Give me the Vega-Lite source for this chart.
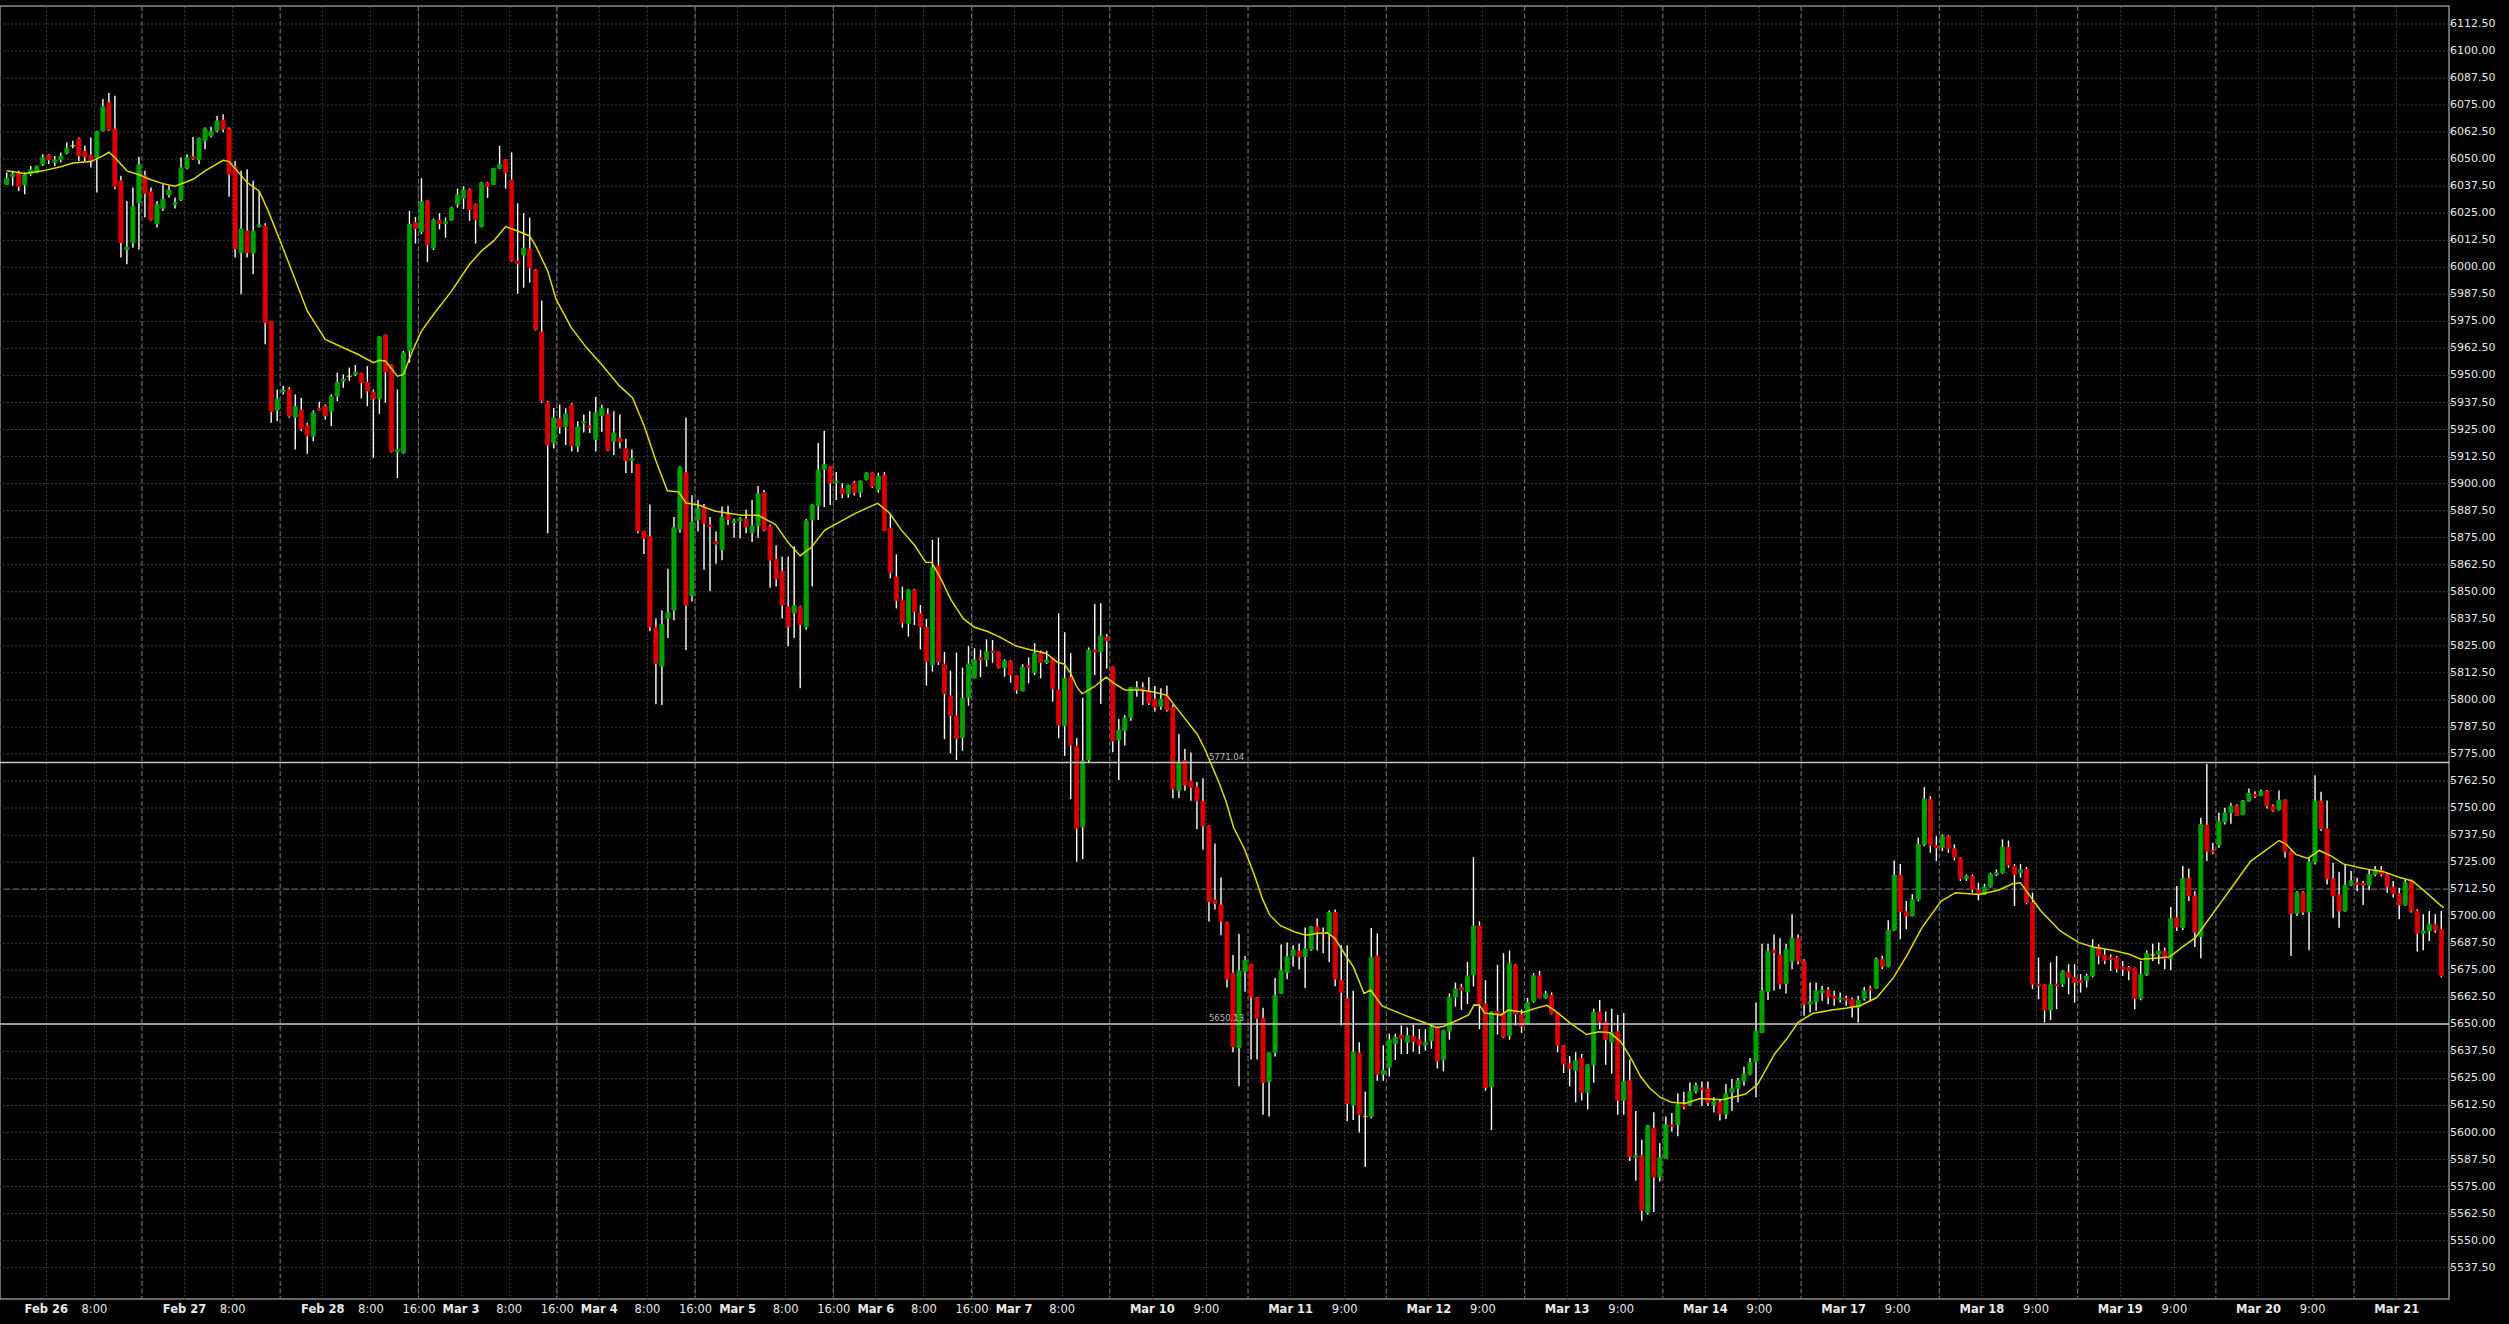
{
"$schema":"https://vega.github.io/schema/vega-lite/v6.json",
"width":2449,"height":1293,"autosize":"none",
"padding":{"left":0,"top":6,"right":60,"bottom":25},
"background":"#000000",
"config":{"view":{"stroke":"#8c8c8c","strokeWidth":1.5},"axis":{"labelFont":"DejaVu Sans","labelFontSize":11,"labelColor":"#e8e8e8","domain":false,"title":null,"labelOverlap":false,"labelFlush":false}},
"datasets":{
"sep":[{"i":22.5},{"i":45.5},{"i":68.5},{"i":91.5},{"i":114.5},{"i":137.5},{"i":160.5},{"i":183.5},{"i":206.5},{"i":229.5},{"i":252.5},{"i":275.5},{"i":298.5},{"i":321.5},{"i":344.5},{"i":367.5},{"i":390.5}],
"dash":[{"v":5712.5}],
"yt":[{"v":5537.5},{"v":5550},{"v":5562.5},{"v":5575},{"v":5587.5},{"v":5600},{"v":5612.5},{"v":5625},{"v":5637.5},{"v":5650},{"v":5662.5},{"v":5675},{"v":5687.5},{"v":5700},{"v":5712.5},{"v":5725},{"v":5737.5},{"v":5750},{"v":5762.5},{"v":5775},{"v":5787.5},{"v":5800},{"v":5812.5},{"v":5825},{"v":5837.5},{"v":5850},{"v":5862.5},{"v":5875},{"v":5887.5},{"v":5900},{"v":5912.5},{"v":5925},{"v":5937.5},{"v":5950},{"v":5962.5},{"v":5975},{"v":5987.5},{"v":6000},{"v":6012.5},{"v":6025},{"v":6037.5},{"v":6050},{"v":6062.5},{"v":6075},{"v":6087.5},{"v":6100},{"v":6112.5}],
"levels":[{"i":200,"v":5771.04,"t":"5771.04"},{"i":200,"v":5650.13,"t":"5650.13"}],
"ma":[{"i":0,"m":6044.6},{"i":3,"m":6043.4},{"i":6,"m":6044.6},{"i":9,"m":6046.5},{"i":11,"m":6048.2},{"i":14,"m":6048.9},{"i":16,"m":6051.5},{"i":17,"m":6053.2},{"i":18,"m":6050.8},{"i":20,"m":6044.6},{"i":22,"m":6042.8},{"i":24,"m":6040.5},{"i":26,"m":6038.7},{"i":28,"m":6037.5},{"i":31,"m":6040.7},{"i":33,"m":6044.6},{"i":36,"m":6049.5},{"i":37,"m":6048.9},{"i":40,"m":6039.2},{"i":42,"m":6035.3},{"i":43.5,"m":6026.1},{"i":45.5,"m":6012.2},{"i":47,"m":6001.4},{"i":50,"m":5979.8},{"i":53,"m":5966.7},{"i":56,"m":5962.8},{"i":58.5,"m":5959.7},{"i":61,"m":5955.9},{"i":62,"m":5957.0},{"i":63,"m":5956.7},{"i":65,"m":5949.7},{"i":66,"m":5950.5},{"i":67.5,"m":5961.3},{"i":69,"m":5970.5},{"i":71,"m":5978.2},{"i":74,"m":5989.0},{"i":77,"m":6001.4},{"i":79,"m":6007.6},{"i":81,"m":6012.2},{"i":83,"m":6018.8},{"i":85,"m":6016.8},{"i":87,"m":6014.5},{"i":88,"m":6009.9},{"i":90,"m":5998.3},{"i":91.4,"m":5985.2},{"i":93.9,"m":5972.2},{"i":96.4,"m":5963.0},{"i":98.8,"m":5955.7},{"i":101.9,"m":5945.3},{"i":104.1,"m":5939.7},{"i":106,"m":5927.1},{"i":108,"m":5910.6},{"i":109.9,"m":5896.7},{"i":111.8,"m":5896.2},{"i":113,"m":5891.0},{"i":115.1,"m":5890.1},{"i":117.9,"m":5887.2},{"i":122.3,"m":5885.4},{"i":125,"m":5885.4},{"i":127.9,"m":5881.1},{"i":130.1,"m":5872.4},{"i":132,"m":5866.7},{"i":133.9,"m":5870.7},{"i":136.1,"m":5878.5},{"i":138.9,"m":5882.8},{"i":141,"m":5886.0},{"i":142.8,"m":5888.3},{"i":144.9,"m":5890.9},{"i":146.9,"m":5886.3},{"i":148.8,"m":5878.6},{"i":151,"m":5871.6},{"i":152.9,"m":5863.6},{"i":153.9,"m":5863.5},{"i":155.5,"m":5855.5},{"i":157.1,"m":5846.2},{"i":159.1,"m":5837.7},{"i":161,"m":5833.6},{"i":163.2,"m":5831.6},{"i":165.4,"m":5828.8},{"i":167.9,"m":5824.9},{"i":170.4,"m":5823.1},{"i":172.9,"m":5821.6},{"i":174.8,"m":5817.4},{"i":175.9,"m":5816.6},{"i":177,"m":5812.3},{"i":178,"m":5806.1},{"i":178.9,"m":5802.8},{"i":180.9,"m":5806.1},{"i":182.9,"m":5810.5},{"i":184.2,"m":5807.7},{"i":186,"m":5804.6},{"i":188.6,"m":5804.6},{"i":191,"m":5803.5},{"i":193,"m":5802.1},{"i":195.1,"m":5794.6},{"i":198.1,"m":5783.9},{"i":199.3,"m":5777.3},{"i":201.7,"m":5761.6},{"i":202.9,"m":5752.6},{"i":204.1,"m":5741.0},{"i":205.9,"m":5731.1},{"i":207.7,"m":5717.9},{"i":208.9,"m":5708.0},{"i":210.1,"m":5700.6},{"i":211.9,"m":5695.6},{"i":214.3,"m":5692.7},{"i":216.1,"m":5691.2},{"i":217.9,"m":5692.0},{"i":219.7,"m":5692.3},{"i":220.9,"m":5689.9},{"i":222.8,"m":5681.6},{"i":224,"m":5676.7},{"i":225.8,"m":5664.3},{"i":226.9,"m":5665.9},{"i":228.8,"m":5658.5},{"i":232.4,"m":5654.4},{"i":236,"m":5650.6},{"i":237.8,"m":5648.6},{"i":239,"m":5649.0},{"i":241.4,"m":5652.0},{"i":243.2,"m":5654.4},{"i":244.1,"m":5659.0},{"i":245,"m":5658.8},{"i":245.9,"m":5655.2},{"i":248.6,"m":5654.4},{"i":249.8,"m":5656.6},{"i":252.3,"m":5655.6},{"i":254.1,"m":5657.2},{"i":256.2,"m":5658.8},{"i":257.7,"m":5656.0},{"i":260.1,"m":5650.6},{"i":262.8,"m":5645.3},{"i":264.9,"m":5646.6},{"i":266.7,"m":5646.1},{"i":268.5,"m":5642.0},{"i":270.3,"m":5633.8},{"i":271.8,"m":5625.9},{"i":273.3,"m":5620.6},{"i":275.1,"m":5616.2},{"i":276.9,"m":5614.0},{"i":279.3,"m":5613.5},{"i":281.7,"m":5615.7},{"i":285.4,"m":5615.2},{"i":289.3,"m":5617.8},{"i":291.3,"m":5622.4},{"i":294.1,"m":5636.3},{"i":296.1,"m":5643.2},{"i":298,"m":5650.9},{"i":300.4,"m":5655.0},{"i":303.6,"m":5656.6},{"i":305.9,"m":5657.5},{"i":308.3,"m":5658.6},{"i":311.1,"m":5662.4},{"i":313.9,"m":5671.7},{"i":316.2,"m":5682.4},{"i":318.6,"m":5694.7},{"i":321.8,"m":5707.0},{"i":324.2,"m":5710.9},{"i":328.1,"m":5710.1},{"i":331.3,"m":5712.0},{"i":333.7,"m":5715.0},{"i":335,"m":5715.5},{"i":336.4,"m":5710.1},{"i":338.4,"m":5702.4},{"i":341.6,"m":5693.2},{"i":344.7,"m":5687.8},{"i":347.1,"m":5685.8},{"i":350.3,"m":5684.3},{"i":353.1,"m":5682.4},{"i":355,"m":5680.1},{"i":357.4,"m":5680.6},{"i":359.8,"m":5681.2},{"i":362.2,"m":5686.3},{"i":364.1,"m":5690.1},{"i":366.1,"m":5697.8},{"i":368.5,"m":5707.0},{"i":370.9,"m":5716.3},{"i":373.3,"m":5725.5},{"i":375.6,"m":5730.1},{"i":378,"m":5735.0},{"i":379.2,"m":5733.2},{"i":380.8,"m":5728.6},{"i":382.8,"m":5726.7},{"i":384.7,"m":5730.4},{"i":386.7,"m":5727.8},{"i":388.7,"m":5724.2},{"i":391.5,"m":5722.4},{"i":393.8,"m":5721.2},{"i":395.4,"m":5720.6},{"i":397.8,"m":5718.1},{"i":400.2,"m":5716.3},{"i":402.5,"m":5710.9},{"i":404.7,"m":5705.5},{"i":405.4,"m":5704.0}],
"k":[
{"i":0,"o":6038.4,"h":6043.8,"l":6038.1,"c":6041.2},{"i":1,"o":6042.0,"h":6044.6,"l":6037.7,"c":6043.1},{"i":2,"o":6043.5,"h":6044.6,"l":6035.3,"c":6037.4},{"i":3,"o":6038.1,"h":6043.8,"l":6033.8,"c":6042.8},{"i":4,"o":6043.1,"h":6046.9,"l":6042.3,"c":6045.1},{"i":5,"o":6043.8,"h":6047.0,"l":6043.5,"c":6046.8},{"i":6,"o":6047.7,"h":6052.3,"l":6046.9,"c":6050.8},{"i":7,"o":6051.9,"h":6052.3,"l":6047.7,"c":6049.7},{"i":8,"o":6048.5,"h":6051.5,"l":6046.9,"c":6049.7},{"i":9,"o":6049.7,"h":6053.1,"l":6048.5,"c":6051.4},
{"i":10,"o":6052.9,"h":6057.7,"l":6052.3,"c":6055.1},{"i":11,"o":6056.2,"h":6058.5,"l":6055.1,"c":6056.2},{"i":12,"o":6059.4,"h":6060.0,"l":6049.2,"c":6051.5},{"i":13,"o":6053.6,"h":6056.2,"l":6049.2,"c":6051.1},{"i":14,"o":6051.9,"h":6060.0,"l":6046.1,"c":6048.9},{"i":15,"o":6050.8,"h":6063.1,"l":6034.6,"c":6062.7},{"i":16,"o":6063.1,"h":6077.8,"l":6062.8,"c":6074.2},{"i":17,"o":6076.1,"h":6080.6,"l":6063.1,"c":6063.6},{"i":18,"o":6063.9,"h":6079.3,"l":6036.1,"c":6037.4},{"i":19,"o":6040.0,"h":6042.3,"l":6004.5,"c":6011.4},
{"i":20,"o":6008.2,"h":6030.7,"l":6001.4,"c":6009.4},{"i":21,"o":6011.4,"h":6036.9,"l":6009.1,"c":6028.1},{"i":22,"o":6029.9,"h":6051.1,"l":6008.3,"c":6047.4},{"i":23,"o":6042.3,"h":6044.6,"l":6023.0,"c":6034.1},{"i":24,"o":6034.9,"h":6036.9,"l":6021.5,"c":6021.9},{"i":25,"o":6020.1,"h":6030.7,"l":6018.4,"c":6029.0},{"i":26,"o":6027.2,"h":6038.4,"l":6026.1,"c":6031.5},{"i":27,"o":6033.5,"h":6037.7,"l":6032.3,"c":6035.8},{"i":28,"o":6029.0,"h":6032.3,"l":6027.2,"c":6029.9},{"i":29,"o":6031.3,"h":6050.8,"l":6030.7,"c":6046.0},
{"i":30,"o":6046.0,"h":6052.3,"l":6045.4,"c":6050.8},{"i":31,"o":6051.2,"h":6060.3,"l":6049.7,"c":6050.3},{"i":32,"o":6049.7,"h":6060.0,"l":6047.7,"c":6059.6},{"i":33,"o":6058.5,"h":6064.7,"l":6054.6,"c":6064.0},{"i":34,"o":6060.8,"h":6065.0,"l":6060.0,"c":6062.8},{"i":35,"o":6063.1,"h":6070.1,"l":6062.4,"c":6067.7},{"i":36,"o":6068.1,"h":6070.8,"l":6062.4,"c":6063.9},{"i":37,"o":6064.0,"h":6064.7,"l":6032.6,"c":6042.9},{"i":38,"o":6046.5,"h":6049.2,"l":6004.5,"c":6008.6},{"i":39,"o":6006.8,"h":6044.6,"l":5987.5,"c":6017.8},
{"i":40,"o":6016.8,"h":6045.4,"l":6004.5,"c":6006.8},{"i":41,"o":6006.6,"h":6040.0,"l":5996.8,"c":6016.8},{"i":42,"o":6018.8,"h":6035.3,"l":6018.4,"c":6019.6},{"i":43,"o":6019.1,"h":6020.4,"l":5964.4,"c":5974.4},{"i":44,"o":5974.9,"h":5975.2,"l":5928.1,"c":5933.2},{"i":45,"o":5934.0,"h":5943.5,"l":5928.9,"c":5939.1},{"i":46,"o":5942.5,"h":5945.1,"l":5941.2,"c":5943.2},{"i":47,"o":5943.5,"h":5944.6,"l":5930.4,"c":5931.2},{"i":48,"o":5930.7,"h":5941.2,"l":5915.8,"c":5935.7},{"i":49,"o":5934.0,"h":5939.7,"l":5924.3,"c":5925.3},
{"i":50,"o":5927.0,"h":5928.1,"l":5913.8,"c":5922.2},{"i":51,"o":5921.9,"h":5933.8,"l":5919.6,"c":5933.0},{"i":52,"o":5934.9,"h":5937.8,"l":5933.8,"c":5934.0},{"i":53,"o":5935.8,"h":5936.6,"l":5929.6,"c":5931.3},{"i":54,"o":5933.5,"h":5941.2,"l":5926.6,"c":5940.1},{"i":55,"o":5940.4,"h":5951.3,"l":5938.1,"c":5946.8},{"i":56,"o":5947.4,"h":5950.5,"l":5944.3,"c":5948.3},{"i":57,"o":5949.6,"h":5953.6,"l":5947.4,"c":5949.6},{"i":58,"o":5950.5,"h":5954.8,"l":5949.7,"c":5951.4},{"i":59,"o":5951.0,"h":5951.3,"l":5939.4,"c":5946.6},
{"i":60,"o":5946.9,"h":5954.3,"l":5935.8,"c":5942.8},{"i":61,"o":5942.3,"h":5943.5,"l":5911.9,"c":5939.2},{"i":62,"o":5939.2,"h":5968.2,"l":5932.3,"c":5967.8},{"i":63,"o":5968.7,"h":5969.0,"l":5937.4,"c":5951.6},{"i":64,"o":5954.8,"h":5955.1,"l":5914.4,"c":5914.7},{"i":65,"o":5914.7,"h":5943.5,"l":5902.6,"c":5915.8},{"i":66,"o":5914.2,"h":5961.3,"l":5913.9,"c":5960.4},{"i":67,"o":5961.6,"h":6026.1,"l":5955.9,"c":6019.9},{"i":68,"o":6020.8,"h":6023.3,"l":6011.0,"c":6017.9},{"i":69,"o":6016.4,"h":6041.2,"l":6015.3,"c":6030.3},
{"i":70,"o":6030.7,"h":6031.0,"l":6002.5,"c":6010.5},{"i":71,"o":6008.9,"h":6022.5,"l":6008.0,"c":6021.8},{"i":72,"o":6021.8,"h":6025.0,"l":6017.6,"c":6020.2},{"i":73,"o":6020.2,"h":6023.0,"l":6013.7,"c":6021.1},{"i":74,"o":6021.9,"h":6028.0,"l":6021.5,"c":6027.5},{"i":75,"o":6029.0,"h":6036.4,"l":6027.6,"c":6033.5},{"i":76,"o":6032.0,"h":6037.4,"l":6026.9,"c":6035.8},{"i":77,"o":6035.8,"h":6036.4,"l":6021.5,"c":6026.7},{"i":78,"o":6029.2,"h":6029.5,"l":6011.0,"c":6021.9},{"i":79,"o":6018.8,"h":6039.5,"l":6018.4,"c":6039.0},
{"i":80,"o":6039.0,"h":6039.5,"l":6032.1,"c":6037.4},{"i":81,"o":6038.3,"h":6046.0,"l":6038.0,"c":6045.7},{"i":82,"o":6045.7,"h":6056.2,"l":6045.5,"c":6047.7},{"i":83,"o":6049.7,"h":6050.0,"l":6036.4,"c":6043.7},{"i":84,"o":6040.4,"h":6053.1,"l":6002.5,"c":6002.9},{"i":85,"o":6002.9,"h":6029.6,"l":5987.8,"c":6001.7},{"i":86,"o":6005.7,"h":6025.0,"l":5990.6,"c":6008.8},{"i":87,"o":6008.5,"h":6023.0,"l":5992.9,"c":5999.7},{"i":88,"o":5998.8,"h":5999.2,"l":5970.8,"c":5971.2},{"i":89,"o":5970.1,"h":5984.7,"l":5937.4,"c":5938.3},
{"i":90,"o":5937.7,"h":5938.2,"l":5877.1,"c":5917.8},{"i":91,"o":5918.8,"h":5935.0,"l":5916.2,"c":5930.4},{"i":92,"o":5930.0,"h":5936.6,"l":5923.1,"c":5926.2},{"i":93,"o":5926.2,"h":5934.9,"l":5917.9,"c":5932.3},{"i":94,"o":5936.5,"h":5937.2,"l":5914.9,"c":5917.5},{"i":95,"o":5917.3,"h":5928.8,"l":5914.6,"c":5926.2},{"i":96,"o":5928.0,"h":5932.0,"l":5923.6,"c":5928.7},{"i":97,"o":5926.7,"h":5933.5,"l":5923.4,"c":5926.0},{"i":98,"o":5920.5,"h":5940.1,"l":5914.9,"c":5932.8},{"i":99,"o":5931.4,"h":5936.5,"l":5923.9,"c":5934.9},
{"i":100,"o":5932.1,"h":5934.9,"l":5915.0,"c":5915.5},{"i":101,"o":5919.6,"h":5933.5,"l":5913.2,"c":5923.4},{"i":102,"o":5921.0,"h":5932.0,"l":5916.2,"c":5919.3},{"i":103,"o":5916.2,"h":5920.7,"l":5904.9,"c":5910.6},{"i":104,"o":5910.8,"h":5915.8,"l":5904.9,"c":5911.7},{"i":105,"o":5908.9,"h":5909.2,"l":5877.1,"c":5878.1},{"i":106,"o":5877.9,"h":5878.2,"l":5867.5,"c":5874.7},{"i":107,"o":5875.5,"h":5890.3,"l":5831.9,"c":5833.8},{"i":108,"o":5833.6,"h":5837.6,"l":5798.0,"c":5816.7},{"i":109,"o":5815.6,"h":5841.5,"l":5797.7,"c":5834.9},
{"i":110,"o":5837.6,"h":5860.6,"l":5828.6,"c":5840.3},{"i":111,"o":5841.5,"h":5884.6,"l":5836.8,"c":5879.7},{"i":112,"o":5879.0,"h":5908.0,"l":5877.3,"c":5907.5},{"i":113,"o":5905.0,"h":5930.6,"l":5823.0,"c":5843.8},{"i":114,"o":5848.1,"h":5894.6,"l":5845.5,"c":5882.3},{"i":115,"o":5883.2,"h":5892.4,"l":5877.9,"c":5888.6},{"i":116,"o":5889.2,"h":5890.6,"l":5860.2,"c":5881.7},{"i":117,"o":5881.0,"h":5884.6,"l":5850.3,"c":5880.2},{"i":118,"o":5873.2,"h":5877.9,"l":5862.9,"c":5872.0},{"i":119,"o":5869.5,"h":5889.4,"l":5864.6,"c":5884.4},
{"i":120,"o":5885.5,"h":5889.8,"l":5880.9,"c":5883.4},{"i":121,"o":5882.0,"h":5883.8,"l":5875.0,"c":5882.7},{"i":122,"o":5882.7,"h":5884.6,"l":5874.7,"c":5883.9},{"i":123,"o":5883.6,"h":5887.9,"l":5877.1,"c":5880.0},{"i":124,"o":5877.4,"h":5892.4,"l":5873.0,"c":5880.5},{"i":125,"o":5880.6,"h":5898.9,"l":5875.0,"c":5895.3},{"i":126,"o":5895.8,"h":5897.0,"l":5878.0,"c":5878.5},{"i":127,"o":5880.2,"h":5881.0,"l":5851.9,"c":5864.6},{"i":128,"o":5865.0,"h":5871.5,"l":5852.4,"c":5855.9},{"i":129,"o":5859.4,"h":5866.3,"l":5837.6,"c":5843.8},
{"i":130,"o":5843.0,"h":5866.3,"l":5824.8,"c":5833.8},{"i":131,"o":5840.2,"h":5871.0,"l":5828.6,"c":5843.6},{"i":132,"o":5843.0,"h":5843.5,"l":5805.4,"c":5834.9},{"i":133,"o":5833.8,"h":5883.6,"l":5832.5,"c":5882.8},{"i":134,"o":5883.2,"h":5890.5,"l":5852.4,"c":5890.1},{"i":135,"o":5889.8,"h":5918.8,"l":5883.2,"c":5906.3},{"i":136,"o":5906.6,"h":5924.5,"l":5889.2,"c":5908.9},{"i":137,"o":5907.8,"h":5908.0,"l":5890.1,"c":5900.3},{"i":138,"o":5900.3,"h":5905.4,"l":5892.4,"c":5901.1},{"i":139,"o":5897.6,"h":5900.2,"l":5893.3,"c":5895.3},
{"i":140,"o":5895.3,"h":5899.5,"l":5893.6,"c":5899.3},{"i":141,"o":5900.3,"h":5901.1,"l":5894.5,"c":5895.8},{"i":142,"o":5895.8,"h":5901.5,"l":5893.7,"c":5901.2},{"i":143,"o":5902.0,"h":5905.3,"l":5901.5,"c":5904.9},{"i":144,"o":5904.9,"h":5905.2,"l":5898.0,"c":5898.6},{"i":145,"o":5897.1,"h":5905.1,"l":5895.8,"c":5903.5},{"i":146,"o":5904.0,"h":5905.4,"l":5878.0,"c":5878.3},{"i":147,"o":5879.4,"h":5886.0,"l":5856.2,"c":5858.8},{"i":148,"o":5856.8,"h":5867.3,"l":5842.3,"c":5845.9},{"i":149,"o":5846.2,"h":5852.4,"l":5833.4,"c":5835.7},
{"i":150,"o":5835.3,"h":5851.2,"l":5829.3,"c":5850.8},{"i":151,"o":5850.8,"h":5851.3,"l":5834.6,"c":5840.8},{"i":152,"o":5839.9,"h":5843.9,"l":5823.4,"c":5833.7},{"i":153,"o":5833.6,"h":5837.4,"l":5806.6,"c":5817.7},{"i":154,"o":5816.2,"h":5874.0,"l":5813.1,"c":5861.2},{"i":155,"o":5861.9,"h":5875.0,"l":5816.2,"c":5817.7},{"i":156,"o":5816.6,"h":5822.2,"l":5781.9,"c":5802.9},{"i":157,"o":5801.8,"h":5813.5,"l":5775.3,"c":5792.7},{"i":158,"o":5792.6,"h":5821.9,"l":5772.2,"c":5782.1},{"i":159,"o":5782.6,"h":5814.9,"l":5776.5,"c":5800.7},
{"i":160,"o":5801.0,"h":5824.9,"l":5797.4,"c":5816.6},{"i":161,"o":5810.3,"h":5823.9,"l":5810.0,"c":5818.5},{"i":162,"o":5819.4,"h":5823.1,"l":5810.5,"c":5818.6},{"i":163,"o":5818.6,"h":5828.0,"l":5815.4,"c":5822.2},{"i":164,"o":5822.6,"h":5827.7,"l":5817.2,"c":5821.9},{"i":165,"o":5822.2,"h":5822.5,"l":5814.5,"c":5814.9},{"i":166,"o":5814.8,"h":5818.8,"l":5810.8,"c":5818.0},{"i":167,"o":5818.0,"h":5818.5,"l":5808.0,"c":5811.5},{"i":168,"o":5811.1,"h":5811.3,"l":5802.8,"c":5804.6},{"i":169,"o":5804.1,"h":5816.5,"l":5804.0,"c":5815.1},
{"i":170,"o":5816.0,"h":5819.6,"l":5807.7,"c":5814.9},{"i":171,"o":5812.6,"h":5826.2,"l":5811.5,"c":5821.6},{"i":172,"o":5821.6,"h":5822.8,"l":5810.0,"c":5817.2},{"i":173,"o":5817.2,"h":5822.8,"l":5816.6,"c":5818.5},{"i":174,"o":5819.3,"h":5819.5,"l":5799.2,"c":5805.2},{"i":175,"o":5804.6,"h":5840.0,"l":5782.3,"c":5788.4},{"i":176,"o":5788.1,"h":5831.3,"l":5774.1,"c":5810.0},{"i":177,"o":5810.5,"h":5821.6,"l":5754.1,"c":5779.2},{"i":178,"o":5778.7,"h":5782.3,"l":5725.2,"c":5740.6},{"i":179,"o":5741.4,"h":5801.0,"l":5726.5,"c":5771.8},
{"i":180,"o":5772.2,"h":5824.2,"l":5771.0,"c":5823.1},{"i":181,"o":5823.1,"h":5844.4,"l":5811.5,"c":5822.2},{"i":182,"o":5822.2,"h":5844.7,"l":5798.1,"c":5829.6},{"i":183,"o":5829.1,"h":5830.5,"l":5814.5,"c":5827.3},{"i":184,"o":5815.2,"h":5815.5,"l":5775.8,"c":5781.0},{"i":185,"o":5781.5,"h":5791.2,"l":5763.0,"c":5786.0},{"i":186,"o":5785.7,"h":5792.9,"l":5778.9,"c":5791.6},{"i":187,"o":5791.8,"h":5806.0,"l":5790.4,"c":5805.8},{"i":188,"o":5804.6,"h":5808.8,"l":5801.5,"c":5805.7},{"i":189,"o":5805.7,"h":5808.1,"l":5797.7,"c":5804.6},
{"i":190,"o":5803.5,"h":5810.5,"l":5797.7,"c":5798.6},{"i":191,"o":5800.3,"h":5806.4,"l":5794.6,"c":5796.6},{"i":192,"o":5797.1,"h":5805.4,"l":5795.5,"c":5800.4},{"i":193,"o":5802.1,"h":5806.7,"l":5794.6,"c":5795.5},{"i":194,"o":5796.6,"h":5797.9,"l":5754.5,"c":5758.8},{"i":195,"o":5758.0,"h":5784.2,"l":5754.7,"c":5770.7},{"i":196,"o":5772.0,"h":5777.3,"l":5758.0,"c":5760.6},{"i":197,"o":5762.5,"h":5775.7,"l":5753.4,"c":5759.5},{"i":198,"o":5759.7,"h":5762.1,"l":5740.2,"c":5753.4},{"i":199,"o":5753.1,"h":5763.8,"l":5730.8,"c":5741.8},
{"i":200,"o":5741.8,"h":5742.0,"l":5697.6,"c":5706.7},{"i":201,"o":5707.5,"h":5733.6,"l":5703.1,"c":5705.9},{"i":202,"o":5705.2,"h":5717.9,"l":5691.2,"c":5697.6},{"i":203,"o":5697.0,"h":5697.5,"l":5667.1,"c":5670.9},{"i":204,"o":5673.7,"h":5682.1,"l":5637.1,"c":5639.6},{"i":205,"o":5639.1,"h":5691.9,"l":5621.4,"c":5674.7},{"i":206,"o":5674.2,"h":5681.6,"l":5665.1,"c":5679.7},{"i":207,"o":5677.8,"h":5678.0,"l":5633.8,"c":5662.7},{"i":208,"o":5662.2,"h":5662.5,"l":5633.8,"c":5652.8},{"i":209,"o":5652.8,"h":5657.7,"l":5608.2,"c":5623.1},
{"i":210,"o":5623.6,"h":5637.0,"l":5607.4,"c":5636.8},{"i":211,"o":5637.1,"h":5671.4,"l":5635.1,"c":5663.5},{"i":212,"o":5664.3,"h":5686.9,"l":5664.0,"c":5675.0},{"i":213,"o":5673.9,"h":5687.9,"l":5670.9,"c":5681.3},{"i":214,"o":5681.6,"h":5686.6,"l":5676.7,"c":5684.4},{"i":215,"o":5683.8,"h":5687.4,"l":5675.4,"c":5681.3},{"i":216,"o":5681.3,"h":5694.8,"l":5666.8,"c":5684.9},{"i":217,"o":5684.6,"h":5695.5,"l":5684.0,"c":5695.1},{"i":218,"o":5695.1,"h":5698.9,"l":5684.1,"c":5692.7},{"i":219,"o":5692.5,"h":5694.8,"l":5682.9,"c":5691.9},
{"i":220,"o":5691.9,"h":5702.7,"l":5678.7,"c":5701.8},{"i":221,"o":5701.8,"h":5703.1,"l":5667.6,"c":5670.9},{"i":222,"o":5670.4,"h":5686.6,"l":5649.5,"c":5664.8},{"i":223,"o":5661.8,"h":5686.6,"l":5605.3,"c":5613.5},{"i":224,"o":5612.7,"h":5665.5,"l":5605.8,"c":5637.1},{"i":225,"o":5636.8,"h":5641.7,"l":5600.0,"c":5608.2},{"i":226,"o":5607.4,"h":5619.0,"l":5584.0,"c":5607.4},{"i":227,"o":5607.4,"h":5694.5,"l":5606.6,"c":5681.1},{"i":228,"o":5681.6,"h":5692.0,"l":5623.9,"c":5626.9},{"i":229,"o":5626.9,"h":5640.4,"l":5623.9,"c":5628.8},
{"i":230,"o":5630.2,"h":5645.7,"l":5625.9,"c":5642.9},{"i":231,"o":5641.0,"h":5645.7,"l":5633.5,"c":5644.0},{"i":232,"o":5645.0,"h":5649.5,"l":5636.3,"c":5643.3},{"i":233,"o":5641.7,"h":5648.6,"l":5636.3,"c":5644.8},{"i":234,"o":5644.5,"h":5649.9,"l":5637.4,"c":5642.0},{"i":235,"o":5642.9,"h":5647.8,"l":5636.3,"c":5640.4},{"i":236,"o":5640.4,"h":5647.8,"l":5637.9,"c":5641.7},{"i":237,"o":5642.4,"h":5649.9,"l":5638.7,"c":5648.6},{"i":238,"o":5648.6,"h":5649.0,"l":5629.6,"c":5633.0},{"i":239,"o":5633.5,"h":5647.5,"l":5628.3,"c":5647.0},
{"i":240,"o":5647.0,"h":5664.3,"l":5642.9,"c":5662.6},{"i":241,"o":5662.6,"h":5669.3,"l":5658.2,"c":5666.4},{"i":242,"o":5667.1,"h":5668.8,"l":5656.6,"c":5665.8},{"i":243,"o":5665.0,"h":5678.8,"l":5659.4,"c":5672.4},{"i":244,"o":5672.9,"h":5727.3,"l":5667.6,"c":5695.5},{"i":245,"o":5695.5,"h":5697.6,"l":5647.8,"c":5659.4},{"i":246,"o":5659.4,"h":5670.4,"l":5619.3,"c":5620.9},{"i":247,"o":5621.1,"h":5656.0,"l":5601.1,"c":5655.7},{"i":248,"o":5656.0,"h":5677.5,"l":5645.3,"c":5655.2},{"i":249,"o":5655.2,"h":5682.9,"l":5643.7,"c":5644.2},
{"i":250,"o":5644.8,"h":5684.1,"l":5642.9,"c":5678.3},{"i":251,"o":5677.5,"h":5678.0,"l":5649.5,"c":5654.7},{"i":252,"o":5654.4,"h":5656.9,"l":5646.1,"c":5649.0},{"i":253,"o":5650.3,"h":5662.2,"l":5650.0,"c":5660.2},{"i":254,"o":5660.7,"h":5673.7,"l":5660.0,"c":5672.5},{"i":255,"o":5672.5,"h":5674.7,"l":5662.0,"c":5662.2},{"i":256,"o":5662.3,"h":5665.5,"l":5661.8,"c":5664.1},{"i":257,"o":5663.5,"h":5664.8,"l":5654.5,"c":5654.9},{"i":258,"o":5655.2,"h":5655.5,"l":5637.1,"c":5640.4},{"i":259,"o":5640.1,"h":5640.5,"l":5627.5,"c":5631.8},
{"i":260,"o":5631.8,"h":5635.4,"l":5621.4,"c":5629.6},{"i":261,"o":5628.8,"h":5637.1,"l":5614.0,"c":5633.3},{"i":262,"o":5634.3,"h":5636.3,"l":5614.8,"c":5618.5},{"i":263,"o":5618.5,"h":5631.5,"l":5610.7,"c":5631.3},{"i":264,"o":5631.3,"h":5657.2,"l":5623.1,"c":5655.7},{"i":265,"o":5655.7,"h":5661.3,"l":5647.8,"c":5651.1},{"i":266,"o":5651.1,"h":5656.0,"l":5631.3,"c":5642.9},{"i":267,"o":5641.7,"h":5657.2,"l":5627.2,"c":5646.2},{"i":268,"o":5646.6,"h":5654.4,"l":5608.2,"c":5614.8},{"i":269,"o":5614.8,"h":5655.2,"l":5608.2,"c":5623.6},
{"i":270,"o":5623.9,"h":5633.8,"l":5586.8,"c":5588.8},{"i":271,"o":5588.5,"h":5609.9,"l":5577.7,"c":5589.3},{"i":272,"o":5589.3,"h":5596.7,"l":5559.2,"c":5564.0},{"i":273,"o":5562.9,"h":5603.5,"l":5562.0,"c":5603.1},{"i":274,"o":5602.1,"h":5609.4,"l":5563.3,"c":5579.4},{"i":275,"o":5579.4,"h":5595.0,"l":5577.4,"c":5588.4},{"i":276,"o":5588.1,"h":5607.4,"l":5588.0,"c":5603.6},{"i":277,"o":5603.6,"h":5609.0,"l":5600.5,"c":5602.8},{"i":278,"o":5603.6,"h":5618.1,"l":5598.3,"c":5612.8},{"i":279,"o":5612.8,"h":5618.9,"l":5610.7,"c":5611.8},
{"i":280,"o":5612.8,"h":5623.1,"l":5612.3,"c":5618.9},{"i":281,"o":5618.9,"h":5623.1,"l":5618.0,"c":5621.7},{"i":282,"o":5620.6,"h":5623.6,"l":5612.3,"c":5619.8},{"i":283,"o":5620.1,"h":5623.6,"l":5612.3,"c":5614.0},{"i":284,"o":5612.8,"h":5616.3,"l":5609.3,"c":5614.4},{"i":285,"o":5614.0,"h":5615.5,"l":5605.5,"c":5608.6},{"i":286,"o":5608.6,"h":5622.4,"l":5606.3,"c":5618.1},{"i":287,"o":5618.5,"h":5624.7,"l":5610.1,"c":5620.4},{"i":288,"o":5620.4,"h":5625.2,"l":5614.0,"c":5623.9},{"i":289,"o":5623.9,"h":5630.4,"l":5621.6,"c":5627.0},
{"i":290,"o":5627.0,"h":5634.4,"l":5626.5,"c":5632.4},{"i":291,"o":5632.7,"h":5660.1,"l":5616.3,"c":5647.0},{"i":292,"o":5646.2,"h":5687.3,"l":5646.0,"c":5665.5},{"i":293,"o":5665.2,"h":5687.3,"l":5661.3,"c":5683.7},{"i":294,"o":5684.3,"h":5691.6,"l":5665.5,"c":5683.2},{"i":295,"o":5682.1,"h":5689.8,"l":5666.3,"c":5668.6},{"i":296,"o":5668.9,"h":5687.3,"l":5664.3,"c":5684.7},{"i":297,"o":5679.0,"h":5700.9,"l":5675.5,"c":5689.8},{"i":298,"o":5689.8,"h":5691.6,"l":5677.8,"c":5679.3},{"i":299,"o":5679.3,"h":5680.1,"l":5654.0,"c":5659.3},
{"i":300,"o":5659.3,"h":5669.3,"l":5655.5,"c":5660.4},{"i":301,"o":5660.4,"h":5669.3,"l":5656.3,"c":5665.5},{"i":302,"o":5664.7,"h":5667.8,"l":5660.9,"c":5665.8},{"i":303,"o":5665.8,"h":5667.3,"l":5659.3,"c":5662.7},{"i":304,"o":5663.0,"h":5665.5,"l":5658.6,"c":5662.1},{"i":305,"o":5661.6,"h":5664.7,"l":5660.1,"c":5662.4},{"i":306,"o":5661.9,"h":5663.2,"l":5658.6,"c":5661.2},{"i":307,"o":5661.6,"h":5662.4,"l":5653.2,"c":5657.8},{"i":308,"o":5657.8,"h":5663.2,"l":5650.9,"c":5661.2},{"i":309,"o":5661.9,"h":5667.3,"l":5660.9,"c":5665.5},
{"i":310,"o":5666.7,"h":5667.8,"l":5660.9,"c":5665.9},{"i":311,"o":5666.7,"h":5680.9,"l":5666.3,"c":5680.1},{"i":312,"o":5680.1,"h":5681.6,"l":5675.5,"c":5676.7},{"i":313,"o":5676.7,"h":5698.1,"l":5676.3,"c":5693.5},{"i":314,"o":5693.5,"h":5725.8,"l":5693.2,"c":5719.0},{"i":315,"o":5719.0,"h":5724.2,"l":5689.3,"c":5702.1},{"i":316,"o":5702.1,"h":5707.0,"l":5694.0,"c":5700.1},{"i":317,"o":5700.1,"h":5710.1,"l":5700.0,"c":5707.8},{"i":318,"o":5707.8,"h":5736.3,"l":5707.0,"c":5733.2},{"i":319,"o":5733.2,"h":5759.7,"l":5732.4,"c":5754.1},
{"i":320,"o":5754.1,"h":5755.5,"l":5729.3,"c":5732.7},{"i":321,"o":5732.7,"h":5737.0,"l":5725.5,"c":5731.6},{"i":322,"o":5731.9,"h":5737.8,"l":5730.1,"c":5737.0},{"i":323,"o":5737.0,"h":5737.5,"l":5729.3,"c":5731.2},{"i":324,"o":5731.2,"h":5733.2,"l":5725.8,"c":5727.3},{"i":325,"o":5726.9,"h":5727.2,"l":5716.3,"c":5717.3},{"i":326,"o":5717.3,"h":5719.3,"l":5716.3,"c":5718.5},{"i":327,"o":5718.5,"h":5719.3,"l":5710.9,"c":5712.4},{"i":328,"o":5712.1,"h":5715.5,"l":5707.3,"c":5710.4},{"i":329,"o":5710.1,"h":5715.0,"l":5709.8,"c":5713.5},
{"i":330,"o":5713.6,"h":5720.1,"l":5713.2,"c":5719.3},{"i":331,"o":5719.3,"h":5721.6,"l":5718.5,"c":5720.1},{"i":332,"o":5720.1,"h":5735.5,"l":5719.6,"c":5731.9},{"i":333,"o":5731.9,"h":5735.0,"l":5722.4,"c":5723.6},{"i":334,"o":5723.2,"h":5724.2,"l":5704.7,"c":5719.3},{"i":335,"o":5720.1,"h":5724.2,"l":5717.8,"c":5721.6},{"i":336,"o":5721.6,"h":5722.7,"l":5705.5,"c":5706.3},{"i":337,"o":5706.3,"h":5710.9,"l":5666.3,"c":5668.6},{"i":338,"o":5668.6,"h":5680.9,"l":5661.6,"c":5667.8},{"i":339,"o":5668.3,"h":5668.6,"l":5650.9,"c":5656.6},
{"i":340,"o":5656.6,"h":5678.6,"l":5652.0,"c":5668.3},{"i":341,"o":5668.6,"h":5681.6,"l":5657.0,"c":5667.8},{"i":342,"o":5668.6,"h":5675.0,"l":5667.3,"c":5674.3},{"i":343,"o":5674.0,"h":5677.8,"l":5663.9,"c":5671.7},{"i":344,"o":5671.7,"h":5677.8,"l":5660.1,"c":5669.4},{"i":345,"o":5670.4,"h":5673.2,"l":5664.7,"c":5669.4},{"i":346,"o":5670.4,"h":5673.5,"l":5667.0,"c":5672.4},{"i":347,"o":5672.4,"h":5689.3,"l":5671.7,"c":5685.8},{"i":348,"o":5685.8,"h":5687.0,"l":5677.8,"c":5681.6},{"i":349,"o":5682.1,"h":5684.7,"l":5677.8,"c":5679.6},
{"i":350,"o":5680.9,"h":5682.4,"l":5674.7,"c":5680.1},{"i":351,"o":5680.9,"h":5681.6,"l":5674.0,"c":5675.8},{"i":352,"o":5676.6,"h":5679.3,"l":5672.4,"c":5675.5},{"i":353,"o":5676.3,"h":5677.0,"l":5670.4,"c":5674.7},{"i":354,"o":5675.8,"h":5676.3,"l":5657.0,"c":5661.9},{"i":355,"o":5661.9,"h":5679.3,"l":5661.2,"c":5672.9},{"i":356,"o":5672.9,"h":5684.3,"l":5672.4,"c":5682.9},{"i":357,"o":5682.1,"h":5687.3,"l":5679.3,"c":5682.1},{"i":358,"o":5682.4,"h":5687.8,"l":5677.8,"c":5683.9},{"i":359,"o":5683.9,"h":5685.5,"l":5675.5,"c":5680.4},
{"i":360,"o":5680.4,"h":5704.3,"l":5675.0,"c":5699.0},{"i":361,"o":5699.3,"h":5714.0,"l":5693.2,"c":5695.0},{"i":362,"o":5694.7,"h":5723.2,"l":5693.5,"c":5717.5},{"i":363,"o":5717.5,"h":5722.1,"l":5707.0,"c":5709.4},{"i":364,"o":5709.4,"h":5711.6,"l":5685.8,"c":5692.7},{"i":365,"o":5690.6,"h":5745.5,"l":5680.6,"c":5742.4},{"i":366,"o":5742.1,"h":5770.4,"l":5725.5,"c":5730.1},{"i":367,"o":5730.4,"h":5734.0,"l":5728.6,"c":5729.6},{"i":368,"o":5732.9,"h":5747.8,"l":5731.6,"c":5744.0},{"i":369,"o":5743.6,"h":5750.1,"l":5742.4,"c":5747.8},
{"i":370,"o":5747.8,"h":5752.4,"l":5742.7,"c":5750.9},{"i":371,"o":5750.9,"h":5751.7,"l":5746.3,"c":5746.6},{"i":372,"o":5747.0,"h":5753.7,"l":5746.7,"c":5753.2},{"i":373,"o":5753.2,"h":5759.0,"l":5752.9,"c":5756.9},{"i":374,"o":5756.3,"h":5757.8,"l":5754.7,"c":5755.5},{"i":375,"o":5755.8,"h":5758.6,"l":5755.5,"c":5757.8},{"i":376,"o":5757.8,"h":5758.3,"l":5749.8,"c":5750.9},{"i":377,"o":5750.9,"h":5751.7,"l":5748.3,"c":5749.0},{"i":378,"o":5749.3,"h":5758.1,"l":5748.9,"c":5753.7},{"i":379,"o":5753.7,"h":5754.0,"l":5727.0,"c":5729.8},
{"i":380,"o":5729.8,"h":5730.4,"l":5681.6,"c":5701.2},{"i":381,"o":5701.2,"h":5711.6,"l":5700.1,"c":5710.9},{"i":382,"o":5710.9,"h":5711.6,"l":5700.6,"c":5701.9},{"i":383,"o":5701.9,"h":5727.0,"l":5684.3,"c":5725.0},{"i":384,"o":5725.0,"h":5765.2,"l":5723.9,"c":5753.2},{"i":385,"o":5753.2,"h":5757.5,"l":5739.4,"c":5740.4},{"i":386,"o":5740.4,"h":5753.5,"l":5714.7,"c":5717.3},{"i":387,"o":5717.3,"h":5724.7,"l":5699.3,"c":5709.4},{"i":388,"o":5709.8,"h":5720.6,"l":5694.7,"c":5702.4},{"i":389,"o":5702.4,"h":5724.2,"l":5702.1,"c":5714.4},
{"i":390,"o":5714.4,"h":5720.9,"l":5714.0,"c":5716.3},{"i":391,"o":5715.5,"h":5717.8,"l":5711.6,"c":5714.7},{"i":392,"o":5715.2,"h":5716.3,"l":5705.2,"c":5714.3},{"i":393,"o":5714.3,"h":5721.6,"l":5712.0,"c":5719.3},{"i":394,"o":5719.3,"h":5723.2,"l":5718.5,"c":5721.6},{"i":395,"o":5721.3,"h":5723.2,"l":5718.5,"c":5719.3},{"i":396,"o":5719.3,"h":5720.1,"l":5710.9,"c":5713.6},{"i":397,"o":5713.5,"h":5716.3,"l":5708.6,"c":5710.4},{"i":398,"o":5710.4,"h":5713.2,"l":5698.6,"c":5705.2},{"i":399,"o":5705.2,"h":5717.0,"l":5704.7,"c":5715.5},
{"i":400,"o":5716.3,"h":5717.0,"l":5701.7,"c":5702.4},{"i":401,"o":5702.4,"h":5703.2,"l":5683.7,"c":5692.1},{"i":402,"o":5692.1,"h":5700.9,"l":5684.3,"c":5693.2},{"i":403,"o":5693.2,"h":5702.4,"l":5688.6,"c":5696.3},{"i":404,"o":5696.3,"h":5700.9,"l":5692.4,"c":5693.6},{"i":405,"o":5693.9,"h":5702.4,"l":5671.7,"c":5672.4}
]},
"layer":[
{"data":{"name":"sep"},"mark":{"type":"rule","color":"#6a6a6a","strokeWidth":1.2,"strokeDash":[5,2.5]},
 "encoding":{"x":{"field":"i","type":"quantitative","scale":{"domain":[-0.28,405.45],"nice":false,"zero":false},
  "axis":{"orient":"bottom","values":[6.5,14.5,29.5,37.5,52.5,60.5,68.5,75.5,83.5,91.5,98.5,106.5,114.5,121.5,129.5,137.5,144.5,152.5,160.5,167.5,175.5,190.5,199.5,213.5,222.5,236.5,245.5,259.5,268.5,282.5,291.5,305.5,314.5,328.5,337.5,351.5,360.5,374.5,383.5,397.5],
   "labelExpr":"(datum.value-6.5)%23==0 ? ['Feb 26','Feb 27','Feb 28','Mar 3','Mar 4','Mar 5','Mar 6','Mar 7','Mar 10','Mar 11','Mar 12','Mar 13','Mar 14','Mar 17','Mar 18','Mar 19','Mar 20','Mar 21'][round((datum.value-6.5)/23)] : ((datum.value-14.5)%23==0 ? '8:00' : ((datum.value-15.5)%23==0 ? '9:00' : '16:00'))",
   "labelFontWeight":{"condition":{"test":"(datum.value-6.5)%23==0","value":"bold"},"value":"normal"},
   "labelFontSize":11.5,"ticks":false,"labelPadding":4,"labelBaseline":"top","labelAlign":"center","labelOverlap":false,"labelFlush":false,
   "grid":true,"gridColor":"#3c3c3c","gridDash":[2,2],"gridWidth":1}}}},
{"data":{"name":"yt"},"mark":{"type":"rule","color":"#3c3c3c","strokeWidth":1,"strokeDash":[2,2]},
 "encoding":{"y":{"field":"v","type":"quantitative","scale":{"domain":[5523.03,6120.82],"nice":false,"zero":false},
   "axis":{"orient":"right","values":[5537.5,5550,5562.5,5575,5587.5,5600,5612.5,5625,5637.5,5650,5662.5,5675,5687.5,5700,5712.5,5725,5737.5,5750,5762.5,5775,5787.5,5800,5812.5,5825,5837.5,5850,5862.5,5875,5887.5,5900,5912.5,5925,5937.5,5950,5962.5,5975,5987.5,6000,6012.5,6025,6037.5,6050,6062.5,6075,6087.5,6100,6112.5],
    "labels":false,"tickSize":3,"tickColor":"#8c8c8c","grid":false}}}},
{"data":{"name":"yt"},"mark":{"type":"text","align":"left","baseline":"middle","dx":6,"font":"DejaVu Sans","fontSize":11,"color":"#e8e8e8"},
 "encoding":{"x":{"datum":405.45,"type":"quantitative","scale":{"domain":[-0.28,405.45],"nice":false,"zero":false}},
  "y":{"field":"v","type":"quantitative","scale":{"domain":[5523.03,6120.82],"nice":false,"zero":false}},
  "text":{"field":"v","type":"quantitative","format":".2f"}}},
{"data":{"name":"dash"},"mark":{"type":"rule","color":"#5e5e5e","strokeWidth":1.2,"strokeDash":[6,3]},
 "encoding":{"y":{"field":"v","type":"quantitative","scale":{"domain":[5523.03,6120.82],"nice":false,"zero":false}}}},
{"data":{"name":"k"},"mark":{"type":"rule","color":"#ffffff","strokeWidth":1.4,"clip":true},
 "encoding":{"x":{"field":"i","type":"quantitative","scale":{"domain":[-0.28,405.45],"nice":false,"zero":false}},
  "y":{"field":"l","type":"quantitative","scale":{"domain":[5523.03,6120.82],"nice":false,"zero":false}},
  "y2":{"field":"h"}}},
{"data":{"name":"k"},"transform":[{"filter":"datum.o != datum.c"}],"mark":{"type":"bar","width":4.2,"strokeWidth":0.8,"clip":true},
 "encoding":{"x":{"field":"i","type":"quantitative","scale":{"domain":[-0.28,405.45],"nice":false,"zero":false}},
  "y":{"field":"o","type":"quantitative","scale":{"domain":[5523.03,6120.82],"nice":false,"zero":false}},
  "y2":{"field":"c"},
  "fill":{"condition":{"test":"datum.c > datum.o","value":"#00a000"},"value":"#d80000"},
  "stroke":{"condition":{"test":"datum.c > datum.o","value":"#00a000"},"value":"#d80000"}}},
{"data":{"name":"k"},"transform":[{"filter":"datum.o == datum.c"}],"mark":{"type":"tick","orient":"horizontal","size":5,"thickness":1.5,"color":"#e8e800","clip":true},
 "encoding":{"x":{"field":"i","type":"quantitative","scale":{"domain":[-0.28,405.45],"nice":false,"zero":false}},
  "y":{"field":"o","type":"quantitative","scale":{"domain":[5523.03,6120.82],"nice":false,"zero":false}}}},
{"data":{"name":"levels"},"mark":{"type":"rule","color":"#c8c8c8","strokeWidth":1.5},
 "encoding":{"y":{"field":"v","type":"quantitative","scale":{"domain":[5523.03,6120.82],"nice":false,"zero":false}}}},
{"data":{"name":"levels"},"mark":{"type":"text","align":"left","baseline":"bottom","dy":-1,"font":"DejaVu Sans","fontSize":8.5,"color":"#b8b8b8"},
 "encoding":{"x":{"field":"i","type":"quantitative","scale":{"domain":[-0.28,405.45],"nice":false,"zero":false}},
  "y":{"field":"v","type":"quantitative","scale":{"domain":[5523.03,6120.82],"nice":false,"zero":false}},
  "text":{"field":"t"}}},
{"data":{"name":"ma"},"mark":{"type":"line","color":"#dcdc00","strokeWidth":1.5,"clip":true},
 "encoding":{"x":{"field":"i","type":"quantitative","scale":{"domain":[-0.28,405.45],"nice":false,"zero":false}},
  "y":{"field":"m","type":"quantitative","scale":{"domain":[5523.03,6120.82],"nice":false,"zero":false}}}}
]
}
